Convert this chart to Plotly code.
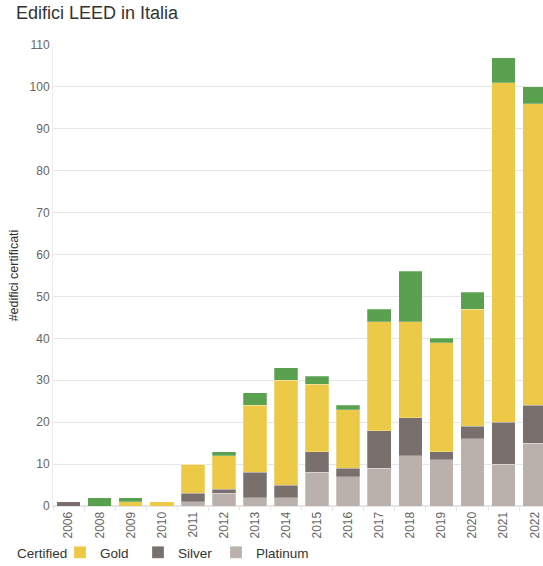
import plotly.graph_objects as go

years = ["2006", "2008", "2009", "2010", "2011", "2012", "2013", "2014", "2015",
         "2016", "2017", "2018", "2019", "2020", "2021", "2022"]
platinum = [0, 0, 0, 0, 1, 3, 2, 2, 8, 7, 9, 12, 11, 16, 10, 15]
silver = [1, 0, 0, 0, 2, 1, 6, 3, 5, 2, 9, 9, 2, 3, 10, 9]
gold = [0, 0, 1, 1, 7, 8, 16, 25, 16, 14, 26, 23, 26, 28, 81, 72]
certified = [0, 2, 1, 0, 0, 1, 3, 3, 2, 1, 3, 12, 1, 4, 6, 4]

# (name, values, colour, legend id, legend text x in px)
series = [
    ("Platinum", platinum, "#bab0ac", "legend3", 256),
    ("Silver", silver, "#79706e", "legend2", 178),
    ("Gold", gold, "#edc948", "legend", 100),
    ("Certified", certified, "#59a14f", None, None),
]

W, H = 543, 566
font_family = "Arial, Liberation Sans, sans-serif"
legend_font = dict(size=13.5, color="#333333", family=font_family)

fig = go.Figure()
legends = {}
for name, vals, col, leg, tx in series:
    kw = {}
    if leg is None:
        kw["showlegend"] = False
    else:
        kw["legend"] = leg
        legends[leg] = dict(
            orientation="h",
            xref="container", yref="container",
            x=(tx - 40) / W, xanchor="left",
            y=1 - 537 / H, yanchor="top",
            font=legend_font,
            bgcolor="rgba(0,0,0,0)",
        )
    fig.add_trace(go.Bar(
        x=years, y=vals, name=name,
        marker=dict(color=col, line=dict(color="rgba(255,255,255,0.5)", width=0.5)),
        **kw,
    ))

plot_l, plot_r, plot_t, plot_b = 53, 0, 45, 60
pw = W - plot_l - plot_r
ph = H - plot_t - plot_b

fig.update_layout(
    width=W, height=H,
    barmode="stack",
    bargap=0.24,
    plot_bgcolor="white",
    paper_bgcolor="white",
    font=dict(family=font_family, color="#333333"),
    margin=dict(l=plot_l, r=plot_r, t=plot_t, b=plot_b, autoexpand=False),
    title=dict(
        text="Edifici LEED in Italia",
        xref="container", yref="container",
        x=16 / W, xanchor="left",
        y=1 - 6 / H, yanchor="top",
        font=dict(size=18, color="#333333", family=font_family),
    ),
    annotations=[dict(
        text="Certified", showarrow=False,
        xref="paper", yref="paper",
        x=(15 - plot_l) / pw, xanchor="left",
        y=-(553 - (H - plot_b)) / ph, yanchor="middle",
        font=legend_font,
    )],
    xaxis=dict(
        type="category",
        range=[-0.5, 15.27],
        tickangle=-90,
        tickfont=dict(size=12, color="#666666", family=font_family),
        ticks="outside", tickson="boundaries", ticklen=4, tickcolor="#e6e6e6",
        showline=True, linecolor="#e6e6e6",
        showgrid=False,
    ),
    yaxis=dict(
        range=[0, 110],
        dtick=10,
        tickfont=dict(size=12, color="#666666", family=font_family),
        showgrid=True, gridcolor="#e6e6e6",
        zeroline=True, zerolinecolor="#e6e6e6",
        showline=True, linecolor="#ededed",
        title=dict(text="#edifici certificati", standoff=8,
                   font=dict(size=12.5, color="#333333", family=font_family)),
    ),
    **legends,
)

fig.write_html("out.html")
